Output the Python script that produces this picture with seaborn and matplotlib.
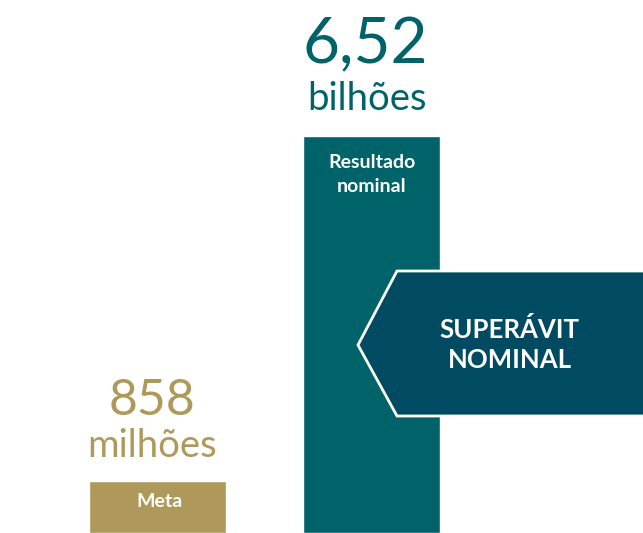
import matplotlib
matplotlib.use("Agg")
import matplotlib.pyplot as plt
from matplotlib.patches import Polygon
import seaborn as sns
import pandas as pd

# data
categories = ["Meta", "Resultado\nnominal"]
values_millions = [858, 6520]
value_labels = ["858", "6,52"]
unit_labels = ["milhões", "bilhões"]
colors = ["#AE985A", "#00636A"]
callout_text = "SUPERÁVIT\nNOMINAL"

sns.set_theme(style="white")
plt.rcParams["font.family"] = ["Lato", "DejaVu Sans"]

W, H = 643, 533
fig = plt.figure(figsize=(W / 100, H / 100), dpi=100)
ax = fig.add_axes([0, 0, 1, 1])

df = pd.DataFrame({"cat": categories, "val": values_millions})
sns.barplot(data=df, x="cat", y="val", hue="cat", palette=colors,
            width=0.64, legend=False, ax=ax, saturation=1)

px_per_unit = 214.0
ax.set_xlim(-157.5 / px_per_unit, (W - 157.5) / px_per_unit)
scale = values_millions[1] / 397.0
ax.set_ylim(0, H * scale)
ax.axis("off")

PT = 0.72  # points per pixel at dpi 100
for i, (v, vl, ul, c, cat) in enumerate(zip(values_millions, value_labels,
                                            unit_labels, colors, categories)):
    big = 36 if i == 0 else 46
    mid = 27.5
    off_big = 66 if i == 0 else 73
    off_mid = 24 if i == 0 else 26
    ax.annotate(vl, (i, v), xytext=(-6 * PT, off_big * PT), textcoords="offset points",
                ha="center", va="baseline", fontsize=big, color=c)
    ax.annotate(ul, (i, v), xytext=(-5 * PT, off_mid * PT), textcoords="offset points",
                ha="center", va="baseline", fontsize=mid, color=c)
    if i == 0:
        ax.annotate(cat, (i, v), xytext=(2 * PT, -21 * PT), textcoords="offset points",
                    ha="center", va="center", fontsize=14, fontweight="bold",
                    color="white")
    else:
        ax.annotate(cat, (i, v), xytext=(0, -38.5 * PT), textcoords="offset points",
                    ha="center", va="center", fontsize=14, fontweight="bold",
                    color="white", linespacing=1.5)

# callout arrow (decoration, in figure pixel fractions)
pts = [(358, 345), (397, 271), (650, 271), (650, 416), (397, 416)]
poly = Polygon([(x / W, 1 - y / H) for x, y in pts], closed=True,
               transform=fig.transFigure, facecolor="#004B62",
               edgecolor="white", linewidth=2, zorder=5)
fig.patches.append(poly)
fig.text(509.5 / W, 1 - 345 / H, callout_text, ha="center", va="center",
         fontsize=18.5, fontweight="bold", color="white", linespacing=1.3,
         zorder=6)

fig.savefig("out.png", dpi=100, facecolor="white")
